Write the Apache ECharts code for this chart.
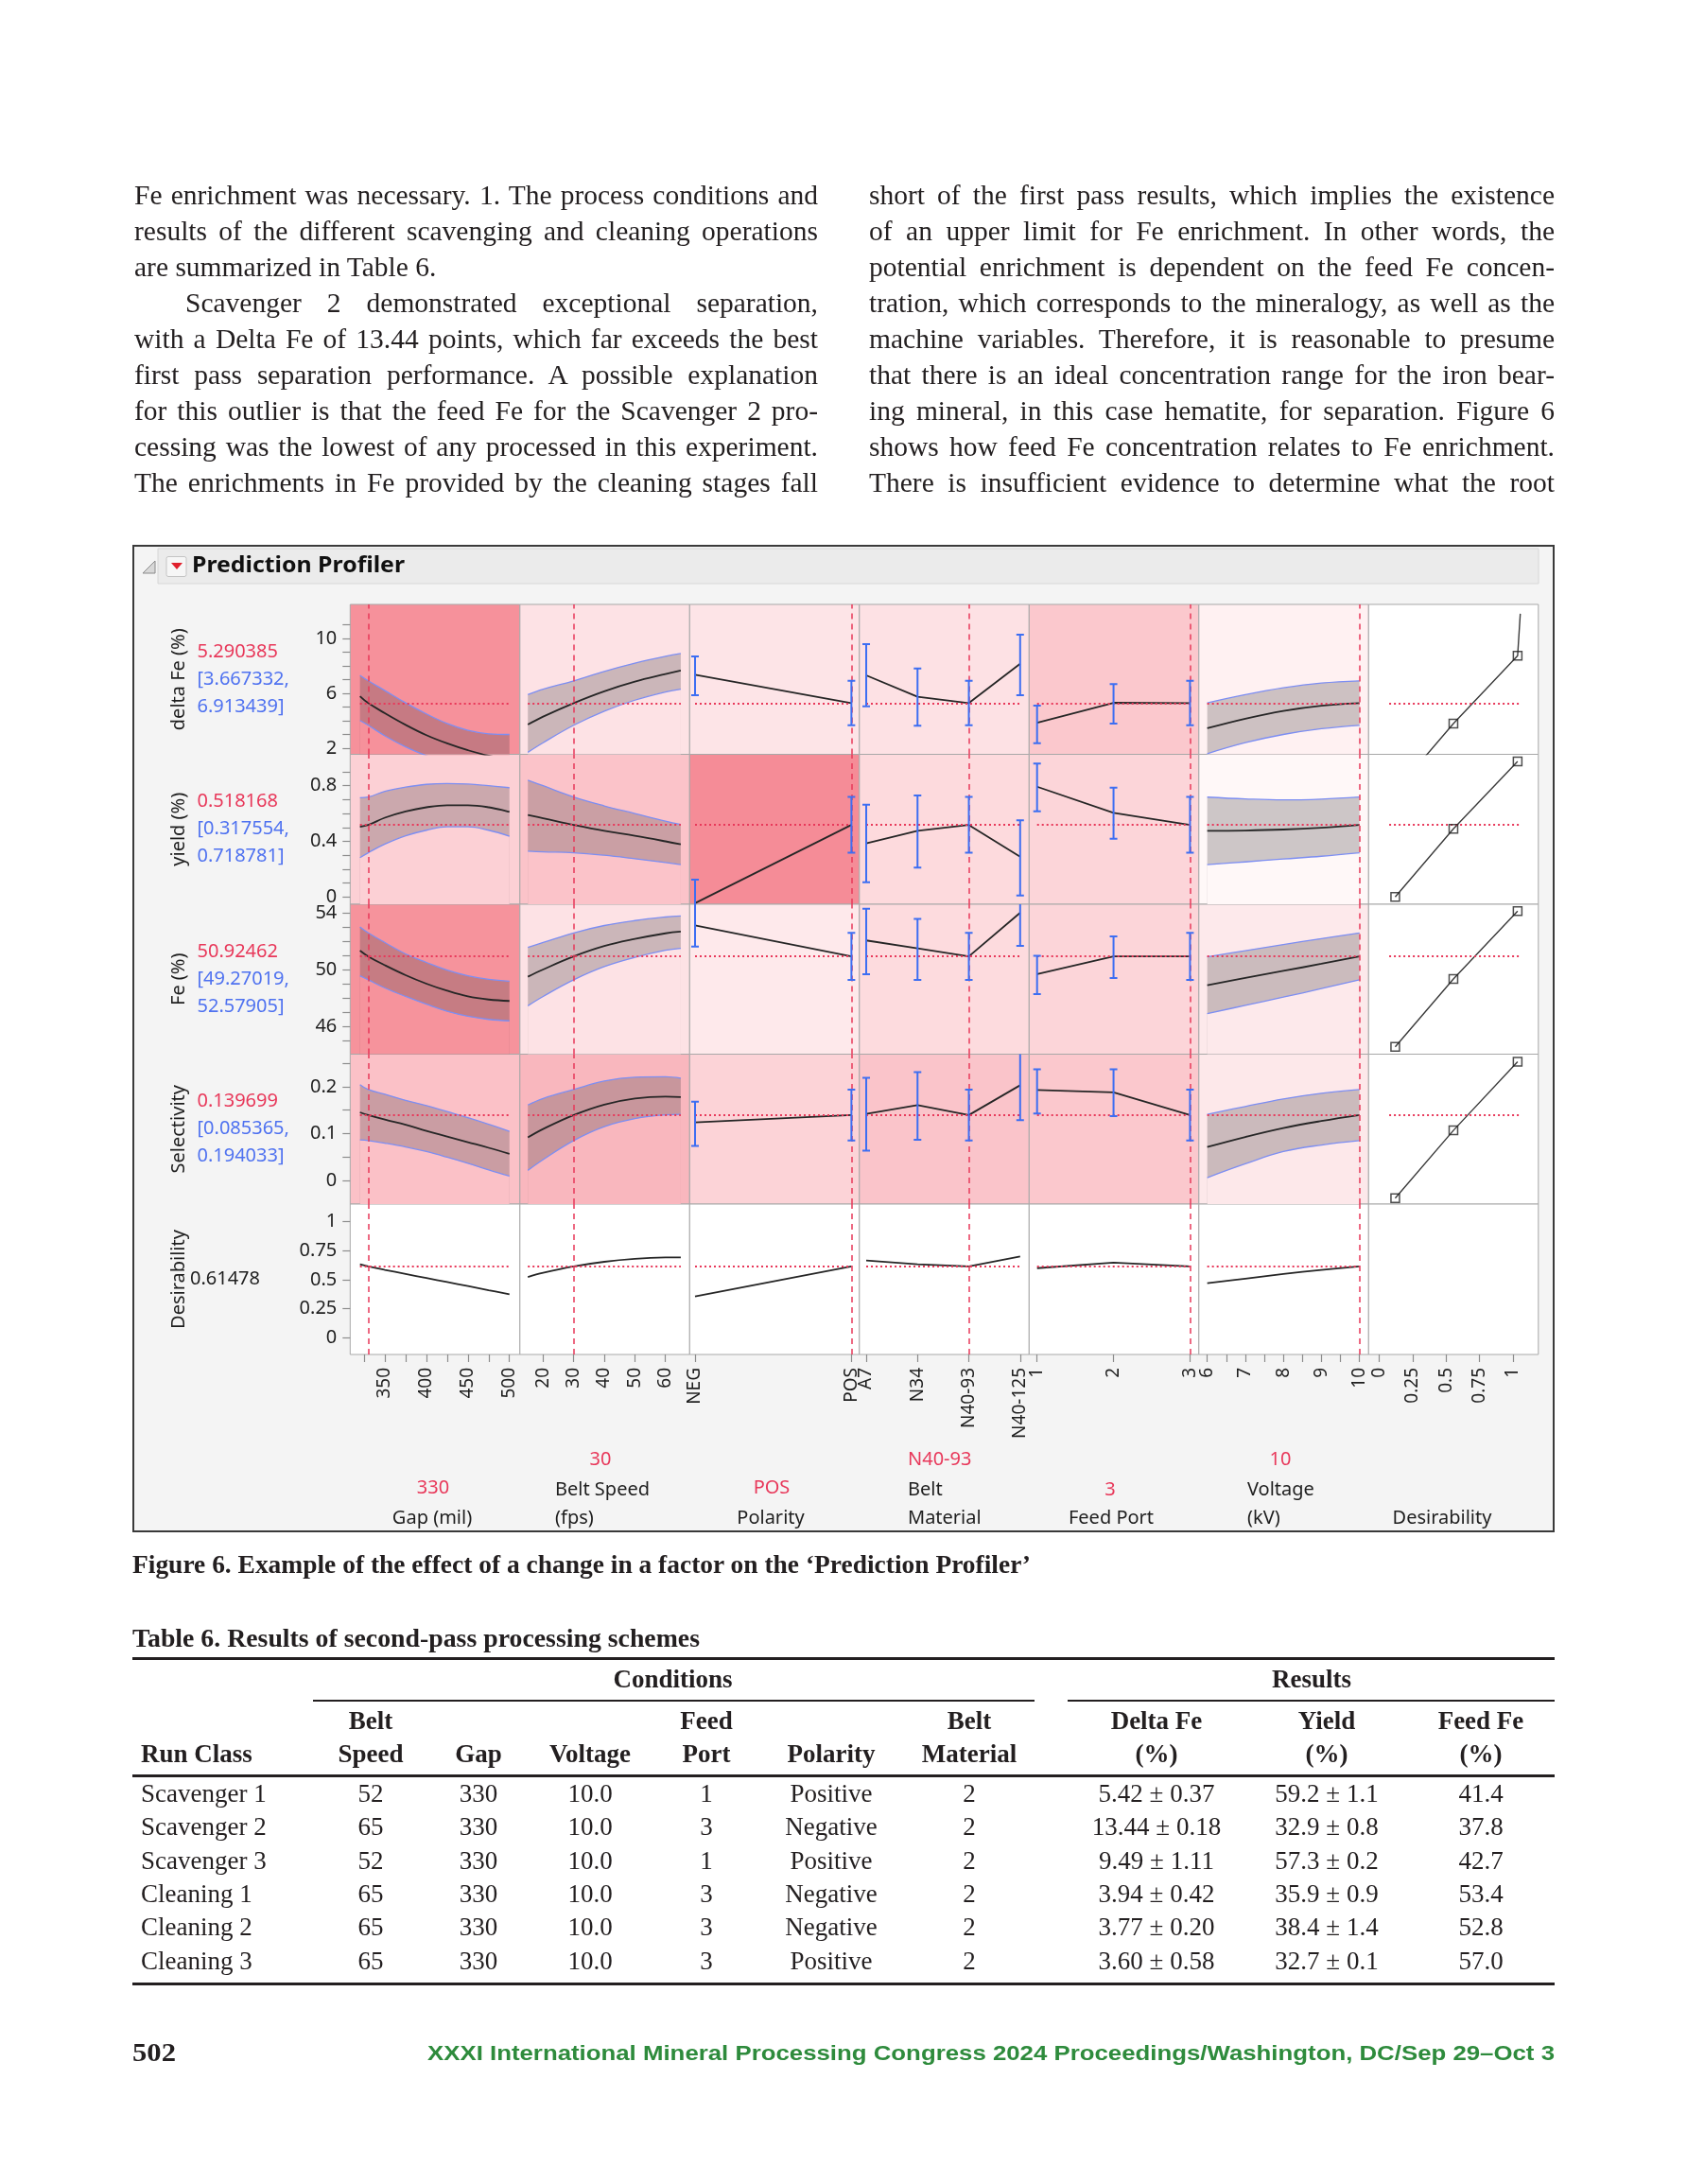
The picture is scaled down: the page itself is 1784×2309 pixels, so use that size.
<!DOCTYPE html>
<html>
<head>
<meta charset="utf-8">
<title>Prediction Profiler</title>
<script src="https://cdn.jsdelivr.net/npm/echarts@6.0.0/dist/echarts.min.js"></script>
<style>
  html, body { margin:0; padding:0; background:#ffffff; }
  #page { position:relative; width:1784px; height:2309px; overflow:hidden; background:#fff; }
  #fig { position:absolute; left:140px; top:576px; width:1504px; height:1044px; box-sizing:border-box; border:2.5px solid #3a3a3a; background:#f4f4f4; }
  #chart { position:absolute; left:0; top:0; width:1784px; height:2309px; }
  .t { position:absolute; white-space:nowrap; font-family:'Liberation Serif','Times New Roman',serif; color:#231f20; line-height:38px; height:38px; }
  .rule { position:absolute; background:#231f20; }
</style>
</head>
<body>
<div id="page">
  <div id="fig"></div>
  <div id="chart"></div>
</div>
<script>
// ---------------- text content ----------------
const col1Lines = [
  'Fe enrichment was necessary. 1. The process conditions and',
  'results of the different scavenging and cleaning operations',
  'are summarized in Table 6.',
  'Scavenger 2 demonstrated exceptional separation,',
  'with a Delta Fe of 13.44 points, which far exceeds the best',
  'first pass separation performance. A possible explanation',
  'for this outlier is that the feed Fe for the Scavenger 2 pro-',
  'cessing was the lowest of any processed in this experiment.',
  'The enrichments in Fe provided by the cleaning stages fall'
];
const col2Lines = [
  'short of the first pass results, which implies the existence',
  'of an upper limit for Fe enrichment. In other words, the',
  'potential enrichment is dependent on the feed Fe concen-',
  'tration, which corresponds to the mineralogy, as well as the',
  'machine variables. Therefore, it is reasonable to presume',
  'that there is an ideal concentration range for the iron bear-',
  'ing mineral, in this case hematite, for separation. Figure 6',
  'shows how feed Fe concentration relates to Fe enrichment.',
  'There is insufficient evidence to determine what the root'
];
const figureCaption = 'Figure 6. Example of the effect of a change in a factor on the \u2018Prediction Profiler\u2019';
const tableTitle = 'Table 6. Results of second-pass processing schemes';
const footerPage = '502';
const footerText = 'XXXI International Mineral Processing Congress 2024 Proceedings/Washington, DC/Sep 29\u2013Oct 3';

// ---------------- table data ----------------
const tableHeader1 = ['', 'Belt', '', '', 'Feed', '', 'Belt', 'Delta Fe', 'Yield', 'Feed Fe'];
const tableHeader2 = ['Run Class', 'Speed', 'Gap', 'Voltage', 'Port', 'Polarity', 'Material', '(%)', '(%)', '(%)'];
const runClasses = ['Scavenger 1', 'Scavenger 2', 'Scavenger 3', 'Cleaning 1', 'Cleaning 2', 'Cleaning 3'];
const beltSpeeds = ['52', '65', '52', '65', '65', '65'];
const gaps = ['330', '330', '330', '330', '330', '330'];
const voltages = ['10.0', '10.0', '10.0', '10.0', '10.0', '10.0'];
const feedPorts = ['1', '3', '1', '3', '3', '3'];
const polarities = ['Positive', 'Negative', 'Positive', 'Negative', 'Negative', 'Positive'];
const beltMaterials = ['2', '2', '2', '2', '2', '2'];
const deltaFeResults = ['5.42 \u00b1 0.37', '13.44 \u00b1 0.18', '9.49 \u00b1 1.11', '3.94 \u00b1 0.42', '3.77 \u00b1 0.20', '3.60 \u00b1 0.58'];
const yieldResults = ['59.2 \u00b1 1.1', '32.9 \u00b1 0.8', '57.3 \u00b1 0.2', '35.9 \u00b1 0.9', '38.4 \u00b1 1.4', '32.7 \u00b1 0.1'];
const feedFeResults = ['41.4', '37.8', '42.7', '53.4', '52.8', '57.0'];

// ---------------- profiler data ----------------
const responseNames = ['delta Fe (%)', 'yield (%)', 'Fe (%)', 'Selectivity', 'Desirability'];
const predictedValues = ['5.290385', '0.518168', '50.92462', '0.139699', '0.61478'];
const ciLowText = ['[3.667332,', '[0.317554,', '[49.27019,', '[0.085365,'];
const ciHighText = ['6.913439]', '0.718781]', '52.57905]', '0.194033]'];
const currentResponse = [5.290385, 0.518168, 50.92462, 0.139699, 0.61478];
const factorValueText = ['330', '30', 'POS', 'N40-93', '3', '10', ''];
const currentFactor = [330, 30, 1, 2, 3, 10, null];
const factorSpan = [[320, 500], [15, 65], [0, 1], [0, 3], [1, 3], [6, 10], [0.075, 1.05]];

const gapTicks = [350, 400, 450, 500];
const gapMinorTicks = [325, 375, 425, 475];
const speedTicks = [20, 30, 40, 50, 60];
const polarityLevels = ['NEG', 'POS'];
const materialLevels = ['A7', 'N34', 'N40-93', 'N40-125'];
const feedPortLevels = [1, 2, 3];
const voltageTicks = [6, 7, 8, 9, 10];
const voltageMinorTicks = [6.5, 7.5, 8.5, 9.5];
const desirTicks = [0, 0.25, 0.5, 0.75, 1];
const deltaFeTicks = [2, 6, 10];
const deltaFeMinor = [3, 4, 5, 7, 8, 9, 11];
const yieldTicks = [0, 0.4, 0.8];
const yieldMinor = [0.1, 0.2, 0.3, 0.5, 0.6, 0.7, 0.9];
const feTicks = [46, 50, 54];
const feMinor = [45, 47, 48, 49, 51, 52, 53];
const selTicks = [0, 0.1, 0.2];
const selMinor = [0.05, 0.15, 0.25];

// Gap (mil)
const gapLevels = [320, 330, 350, 375, 400, 425, 450, 475, 500];
const gapDeltaFe = [5.79, 5.29, 4.55, 3.7, 2.95, 2.35, 1.85, 1.45, 1.2];
const gapDeltaFeLow = [4.02, 3.67, 2.9, 2.1, 1.45, 0.9, 0.45, 0.1, -0.1];
const gapDeltaFeHigh = [7.31, 6.91, 6.2, 5.3, 4.5, 3.8, 3.3, 3.05, 3.0];
const gapYield = [0.505, 0.518, 0.57, 0.615, 0.645, 0.66, 0.66, 0.645, 0.612];
const gapYieldLow = [0.283, 0.318, 0.38, 0.44, 0.48, 0.505, 0.505, 0.48, 0.437];
const gapYieldHigh = [0.714, 0.719, 0.76, 0.79, 0.81, 0.816, 0.812, 0.8, 0.786];
const gapFe = [51.33, 50.92, 50.3, 49.6, 49.0, 48.5, 48.1, 47.88, 47.78];
const gapFeLow = [49.56, 49.27, 48.7, 48.1, 47.55, 47.05, 46.7, 46.48, 46.38];
const gapFeHigh = [53.0, 52.58, 51.9, 51.1, 50.5, 49.95, 49.55, 49.3, 49.18];
const gapSel = [0.1455, 0.1397, 0.13, 0.119, 0.106, 0.094, 0.082, 0.07, 0.057];
const gapSelLow = [0.087, 0.0854, 0.08, 0.072, 0.062, 0.05, 0.037, 0.023, 0.01];
const gapSelHigh = [0.2045, 0.194, 0.184, 0.171, 0.16, 0.147, 0.134, 0.12, 0.105];
const gapDesir = [0.633, 0.615, 0.585, 0.55, 0.515, 0.48, 0.445, 0.41, 0.375];

// Belt Speed (fps)
const speedLevels = [15, 20, 30, 40, 50, 60, 65];
const speedDeltaFe = [3.72, 4.3, 5.29, 6.15, 6.85, 7.4, 7.66];
const speedDeltaFeLow = [1.7, 2.4, 3.67, 4.7, 5.5, 6.1, 6.3];
const speedDeltaFeHigh = [5.9, 6.3, 6.91, 7.6, 8.2, 8.7, 8.9];
const speedYield = [0.589, 0.566, 0.518, 0.475, 0.44, 0.4, 0.378];
const speedYieldLow = [0.33, 0.325, 0.318, 0.3, 0.275, 0.248, 0.233];
const speedYieldHigh = [0.84, 0.8, 0.719, 0.655, 0.6, 0.545, 0.521];
const speedFe = [49.49, 50.0, 50.92, 51.65, 52.15, 52.55, 52.67];
const speedFeLow = [47.44, 48.1, 49.27, 50.2, 50.85, 51.35, 51.49];
const speedFeHigh = [51.56, 51.9, 52.58, 53.1, 53.45, 53.7, 53.78];
const speedSel = [0.092, 0.11, 0.1397, 0.162, 0.175, 0.179, 0.178];
const speedSelLow = [0.022, 0.045, 0.0854, 0.115, 0.132, 0.14, 0.141];
const speedSelHigh = [0.161, 0.175, 0.194, 0.212, 0.22, 0.221, 0.218];
const speedDesir = [0.524, 0.56, 0.615, 0.655, 0.68, 0.692, 0.693];

// Polarity (NEG, POS)
const polarityX = [0, 1];
const polDeltaFe = [7.36, 5.29];
const polDeltaFeLow = [5.86, 3.67];
const polDeltaFeHigh = [8.69, 6.91];
const polYield = [-0.045, 0.518];
const polYieldLow = [-0.2, 0.318];
const polYieldHigh = [0.125, 0.719];
const polFe = [53.11, 50.92];
const polFeLow = [51.62, 49.27];
const polFeHigh = [54.7, 52.58];
const polSel = [0.124, 0.1397];
const polSelLow = [0.074, 0.0854];
const polSelHigh = [0.168, 0.194];
const polDesir = [0.356, 0.615];

// Belt Material (A7, N34, N40-93, N40-125)
const materialX = [0, 1, 2, 3];
const matDeltaFe = [7.31, 5.75, 5.29, 8.16];
const matDeltaFeLow = [5.06, 3.63, 3.67, 5.86];
const matDeltaFeHigh = [9.59, 7.81, 6.91, 10.28];
const matYield = [0.385, 0.476, 0.518, 0.29];
const matYieldLow = [0.106, 0.211, 0.318, 0.011];
const matYieldHigh = [0.664, 0.73, 0.719, 0.551];
const matFe = [52.05, 51.49, 50.92, 54.0];
const matFeLow = [49.67, 49.27, 49.27, 51.67];
const matFeHigh = [54.29, 53.56, 52.58, 54.8];
const matSel = [0.142, 0.161, 0.1397, 0.203];
const matSelLow = [0.064, 0.087, 0.0854, 0.129];
const matSelHigh = [0.219, 0.231, 0.194, 0.28];
const matDesir = [0.666, 0.633, 0.615, 0.701];

// Feed Port (1, 2, 3)
const portDeltaFe = [3.86, 5.31, 5.29];
const portDeltaFeLow = [2.37, 3.79, 3.67];
const portDeltaFeHigh = [5.1, 6.67, 6.91];
const portYield = [0.793, 0.605, 0.518];
const portYieldLow = [0.616, 0.419, 0.318];
const portYieldHigh = [0.959, 0.786, 0.719];
const portFe = [49.67, 50.93, 50.92];
const portFeLow = [48.27, 49.4, 49.27];
const portFeHigh = [50.96, 52.33, 52.58];
const portSel = [0.193, 0.188, 0.1397];
const portSelLow = [0.143, 0.1375, 0.0854];
const portSelHigh = [0.237, 0.237, 0.194];
const portDesir = [0.60, 0.647, 0.615];

// Voltage (kV)
const voltLevels = [6, 7, 8, 9, 10];
const voltDeltaFe = [3.45, 4.15, 4.72, 5.1, 5.29];
const voltDeltaFeLow = [1.6, 2.4, 3.0, 3.42, 3.67];
const voltDeltaFeHigh = [5.3, 5.9, 6.4, 6.75, 6.91];
const voltYield = [0.476, 0.478, 0.485, 0.498, 0.518];
const voltYieldLow = [0.233, 0.252, 0.273, 0.293, 0.318];
const voltYieldHigh = [0.718, 0.705, 0.698, 0.704, 0.719];
const voltFe = [48.89, 49.4, 49.9, 50.4, 50.92];
const voltFeLow = [46.89, 47.47, 48.05, 48.65, 49.27];
const voltFeHigh = [50.89, 51.33, 51.76, 52.18, 52.58];
const voltSel = [0.0716, 0.093, 0.112, 0.127, 0.1397];
const voltSelLow = [0.0066, 0.036, 0.062, 0.076, 0.0854];
const voltSelHigh = [0.141, 0.158, 0.174, 0.186, 0.194];
const voltDesir = [0.47, 0.51, 0.55, 0.585, 0.615];

// Desirability functions (desirability, response)
const desirLevels = [0.12, 0.555, 1.035];
const desirDeltaFe = [-1.16, 3.79, 8.74];
const desirDeltaFeCapD = 1.055;
const desirDeltaFeCapY = 11.8;
const desirYield = [0.0, 0.49, 0.975];
const desirFe = [44.55, 49.33, 54.11];
const desirSel = [-0.037, 0.107, 0.253];

// ---------------- layout / style ----------------
const colEdges = [370.3, 549.8, 729.3, 908.8, 1088.3, 1267.8, 1447.3, 1626.8];
const rowEdges = [639, 797.5, 956, 1114.5, 1273, 1432];
const xRanges = [[308.2, 512.6], [12.4, 67.9], [-0.0345, 1.051], [-0.133, 3.175], [0.896, 3.116], [5.78, 10.24], [-0.079, 1.19]];
const yRanges = [[1.552, 12.483], [-0.0524, 1.0259], [44.03, 54.6], [-0.0497, 0.2692], [-0.1444, 1.1525]];
const cellColors = [
  ['#f6919b', '#fde2e5', '#fde4e7', '#fde1e4', '#fbc8cd', '#fff1f2', '#ffffff'],
  ['#fcd0d5', '#fbc3c9', '#f58c97', '#fddadd', '#fcd5d9', '#fff8f8', '#ffffff'],
  ['#f6939c', '#fde2e5', '#fee9eb', '#fddbde', '#fcd5d9', '#fde9eb', '#ffffff'],
  ['#fbc1c7', '#f9b7be', '#fcd3d7', '#fac4ca', '#fbc8cd', '#fde8ea', '#ffffff'],
  ['#ffffff', '#ffffff', '#ffffff', '#ffffff', '#ffffff', '#ffffff', '#ffffff']
];
const RED = '#e8385a';
const BLUE_TXT = '#4f72f0';
const BAND_LINE = '#7d8ef2';
const ERR_BLUE = '#3d6ef2';
const MEAN = '#262626';
const BAND_FILL = 'rgba(72,62,66,0.27)';
const SANS = '"Noto Sans", "Open Sans", sans-serif';

// ---------------- HTML text ----------------
const page = document.getElementById('page');
function put(text, left, centerY, opts) {
  opts = opts || {};
  const size = opts.size || 29.5;
  const d = document.createElement('div');
  d.className = 't';
  d.textContent = text;
  d.style.left = left + 'px';
  d.style.top = (centerY - 19 - 0.1075 * size) + 'px';
  d.style.fontSize = size + 'px';
  if (opts.bold) d.style.fontWeight = 'bold';
  if (opts.family) d.style.fontFamily = opts.family;
  if (opts.color) d.style.color = opts.color;
  page.appendChild(d);
  const w = d.getBoundingClientRect().width;
  if (opts.center) d.style.left = (left - w / 2) + 'px';
  if (opts.justify) {
    const n = (text.match(/ /g) || []).length;
    const ws = n ? (opts.justify - w) / n : 0;
    if (ws > -2.5) d.style.wordSpacing = ws + 'px';
    else { d.style.transformOrigin = '0 50%'; d.style.transform = 'scaleX(' + (opts.justify / w) + ')'; }
  }
  if (opts.fit) { d.style.transformOrigin = '0 50%'; d.style.transform = 'scaleX(' + (opts.fit / w) + ')'; }
  return d;
}
function rule(x1, x2, y, h) {
  const d = document.createElement('div');
  d.className = 'rule';
  d.style.left = x1 + 'px'; d.style.width = (x2 - x1) + 'px';
  d.style.top = (y - h / 2) + 'px'; d.style.height = h + 'px';
  page.appendChild(d);
}

const lineY0 = 209, lineStep = 38.0;
col1Lines.forEach((s, i) => {
  const y = lineY0 + i * lineStep;
  if (i === 2) put(s, 142, y);
  else if (i === 3) put(s, 196, y, { justify: 865 - 196 });
  else put(s, 142, y, { justify: 865 - 142 });
});
col2Lines.forEach((s, i) => {
  put(s, 919, lineY0 + i * lineStep, { justify: 1644 - 919 });
});

put(figureCaption, 140, 1657, { bold: true, size: 27, fit: 950 });
put(tableTitle, 140, 1735, { bold: true, size: 27, fit: 600 });

rule(140, 1644, 1753, 3);
put('Conditions', 711.6, 1778, { bold: true, size: 27, center: true });
put('Results', 1387, 1778, { bold: true, size: 27, center: true });
rule(330.7, 1094.5, 1798, 2);
rule(1128.5, 1644, 1798, 2);
const colCenters = [149, 392, 506, 624, 747, 879, 1025, 1223, 1403, 1566];
tableHeader1.forEach((s, i) => { if (s) put(s, colCenters[i], 1822, { bold: true, size: 27, center: true }); });
tableHeader2.forEach((s, i) => {
  if (i === 0) put(s, colCenters[0], 1857, { bold: true, size: 27 });
  else put(s, colCenters[i], 1857, { bold: true, size: 27, center: true });
});
rule(140, 1644, 1877, 3);
const tableCols = [beltSpeeds, gaps, voltages, feedPorts, polarities, beltMaterials, deltaFeResults, yieldResults, feedFeResults];
runClasses.forEach((rc, r) => {
  const y = 1899 + r * 35.3;
  put(rc, colCenters[0], y, { size: 27 });
  tableCols.forEach((col, k) => put(col[r], colCenters[k + 1], y, { size: 27, center: true }));
});
rule(140, 1644, 2097, 3);

put(footerPage, 140, 2173, { bold: true, size: 27, fit: 46 });
put(footerText, 452, 2173, { bold: true, size: 22, family: '"Liberation Sans", Arial, sans-serif', color: '#2e8b3c', fit: 1192 });

// ---------------- profiler chart ----------------
const xMajor = [gapTicks, speedTicks, polarityX, materialX, feedPortLevels, voltageTicks, desirTicks];
const xMinor = [gapMinorTicks, [], [], [], [], voltageMinorTicks, []];
const xLabelText = [null, null, polarityLevels, materialLevels, null, null, null];
const yMajor = [deltaFeTicks, yieldTicks, feTicks, selTicks, desirTicks];
const yMinor = [deltaFeMinor, yieldMinor, feMinor, selMinor, []];

const cont = [
  [
    { x: gapLevels, m: gapDeltaFe, lo: gapDeltaFeLow, hi: gapDeltaFeHigh },
    { x: gapLevels, m: gapYield, lo: gapYieldLow, hi: gapYieldHigh },
    { x: gapLevels, m: gapFe, lo: gapFeLow, hi: gapFeHigh },
    { x: gapLevels, m: gapSel, lo: gapSelLow, hi: gapSelHigh },
    { x: gapLevels, m: gapDesir }
  ],
  [
    { x: speedLevels, m: speedDeltaFe, lo: speedDeltaFeLow, hi: speedDeltaFeHigh },
    { x: speedLevels, m: speedYield, lo: speedYieldLow, hi: speedYieldHigh },
    { x: speedLevels, m: speedFe, lo: speedFeLow, hi: speedFeHigh },
    { x: speedLevels, m: speedSel, lo: speedSelLow, hi: speedSelHigh },
    { x: speedLevels, m: speedDesir }
  ],
  [
    { x: polarityX, m: polDeltaFe, lo: polDeltaFeLow, hi: polDeltaFeHigh, cat: true },
    { x: polarityX, m: polYield, lo: polYieldLow, hi: polYieldHigh, cat: true },
    { x: polarityX, m: polFe, lo: polFeLow, hi: polFeHigh, cat: true },
    { x: polarityX, m: polSel, lo: polSelLow, hi: polSelHigh, cat: true },
    { x: polarityX, m: polDesir, cat: true }
  ],
  [
    { x: materialX, m: matDeltaFe, lo: matDeltaFeLow, hi: matDeltaFeHigh, cat: true },
    { x: materialX, m: matYield, lo: matYieldLow, hi: matYieldHigh, cat: true },
    { x: materialX, m: matFe, lo: matFeLow, hi: matFeHigh, cat: true },
    { x: materialX, m: matSel, lo: matSelLow, hi: matSelHigh, cat: true },
    { x: materialX, m: matDesir, cat: true }
  ],
  [
    { x: feedPortLevels, m: portDeltaFe, lo: portDeltaFeLow, hi: portDeltaFeHigh, cat: true },
    { x: feedPortLevels, m: portYield, lo: portYieldLow, hi: portYieldHigh, cat: true },
    { x: feedPortLevels, m: portFe, lo: portFeLow, hi: portFeHigh, cat: true },
    { x: feedPortLevels, m: portSel, lo: portSelLow, hi: portSelHigh, cat: true },
    { x: feedPortLevels, m: portDesir, cat: true }
  ],
  [
    { x: voltLevels, m: voltDeltaFe, lo: voltDeltaFeLow, hi: voltDeltaFeHigh },
    { x: voltLevels, m: voltYield, lo: voltYieldLow, hi: voltYieldHigh },
    { x: voltLevels, m: voltFe, lo: voltFeLow, hi: voltFeHigh },
    { x: voltLevels, m: voltSel, lo: voltSelLow, hi: voltSelHigh },
    { x: voltLevels, m: voltDesir }
  ]
];
const desirResp = [desirDeltaFe, desirYield, desirFe, desirSel];

const NC = 7;
const grid = [], xAxis = [], yAxis = [], series = [];
const idx = (r, c) => r * NC + c;

for (let r = 0; r < 5; r++) {
  for (let c = 0; c < NC; c++) {
    grid.push({
      left: colEdges[c], top: rowEdges[r],
      width: colEdges[c + 1] - colEdges[c], height: rowEdges[r + 1] - rowEdges[r],
      show: true, backgroundColor: cellColors[r][c], borderColor: '#a8a8a8', borderWidth: 1
    });
    const labels = xLabelText[c];
    const majors = xMajor[c];
    xAxis.push({
      type: 'value', gridIndex: idx(r, c), min: xRanges[c][0], max: xRanges[c][1],
      show: r === 4, position: 'bottom',
      axisLine: { show: false, onZero: false }, splitLine: { show: false },
      axisTick: { show: true, length: 8, customValues: majors.concat(xMinor[c]), lineStyle: { color: '#8c8c8c', width: 1.2 } },
      axisLabel: {
        show: true, customValues: majors, rotate: 90, margin: 14, fontSize: 19, fontFamily: SANS, color: '#1e1e1e',
        formatter: (v) => labels ? labels[majors.indexOf(v)] : String(v)
      }
    });
    yAxis.push({
      type: 'value', gridIndex: idx(r, c), min: yRanges[r][0], max: yRanges[r][1],
      show: c === 0, position: 'left',
      axisLine: { show: false, onZero: false }, splitLine: { show: false },
      axisTick: { show: true, length: 8, customValues: yMajor[r].concat(yMinor[r]), lineStyle: { color: '#8c8c8c', width: 1.2 } },
      axisLabel: { show: true, customValues: yMajor[r], margin: 14, fontSize: 20, fontFamily: SANS, color: '#1e1e1e', formatter: (v) => String(v) }
    });
  }
}

function redLines(r, c) {
  const data = [];
  if (currentFactor[c] !== null) {
    data.push({ xAxis: currentFactor[c], lineStyle: { color: RED, type: [6, 5], width: 1.5 } });
  }
  const s = factorSpan[c];
  const ls = { color: RED, type: [2, 3], width: 2 };
  data.push([{ coord: [s[0], currentResponse[r]], lineStyle: ls }, { coord: [s[1], currentResponse[r]], lineStyle: ls }]);
  return { silent: true, symbol: ['none', 'none'], label: { show: false }, animation: false, precision: 6, data: data };
}

for (let c = 0; c < 6; c++) {
  for (let r = 0; r < 5; r++) {
    const cell = cont[c][r];
    const k = idx(r, c);
    const pts = (arr) => cell.x.map((v, i) => [v, arr[i]]);
    if (cell.lo && !cell.cat) {
      // upper bound: grey fill down to axis start
      series.push({
        type: 'line', xAxisIndex: k, yAxisIndex: k, data: pts(cell.hi),
        smooth: 0.4, symbol: 'none', silent: true, z: 2, lineStyle: { color: BAND_LINE, width: 1.3 },
        areaStyle: { color: BAND_FILL, opacity: 1, origin: 'start' }
      });
      // lower bound: cell colour fill down to axis start (clears the band below)
      series.push({
        type: 'line', xAxisIndex: k, yAxisIndex: k, data: pts(cell.lo),
        smooth: 0.4, symbol: 'none', silent: true, z: 3, lineStyle: { color: BAND_LINE, width: 1.3 },
        areaStyle: { color: cellColors[r][c], opacity: 1, origin: 'start' }
      });
    }
    if (cell.lo && cell.cat) {
      series.push({
        type: 'custom', xAxisIndex: k, yAxisIndex: k, clip: true, silent: true, z: 5,
        data: cell.x.map((v, i) => [v, cell.lo[i], cell.hi[i]]),
        encode: { x: 0, y: [1, 2] },
        renderItem: (params, api) => {
          const xv = api.value(0);
          const p1 = api.coord([xv, api.value(1)]);
          const p2 = api.coord([xv, api.value(2)]);
          const w = 4;
          const st = { stroke: ERR_BLUE, lineWidth: 2 };
          return {
            type: 'group', children: [
              { type: 'line', shape: { x1: p1[0], y1: p1[1], x2: p2[0], y2: p2[1] }, style: st },
              { type: 'line', shape: { x1: p1[0] - w, y1: p1[1], x2: p1[0] + w, y2: p1[1] }, style: st },
              { type: 'line', shape: { x1: p2[0] - w, y1: p2[1], x2: p2[0] + w, y2: p2[1] }, style: st }
            ]
          };
        }
      });
    }
    series.push({
      type: 'line', xAxisIndex: k, yAxisIndex: k, data: pts(cell.m), smooth: cell.cat ? false : 0.4,
      symbol: 'none', silent: true, z: 4, lineStyle: { color: MEAN, width: 1.8 },
      markLine: redLines(r, c)
    });
  }
}

// desirability column
for (let r = 0; r < 4; r++) {
  const k = idx(r, 6);
  const line = desirLevels.map((d, i) => [d, desirResp[r][i]]);
  if (r === 0) line.push([desirDeltaFeCapD, desirDeltaFeCapY]);
  series.push({
    type: 'line', xAxisIndex: k, yAxisIndex: k, data: line, symbol: 'none', silent: true, z: 4,
    lineStyle: { color: '#3a3a3a', width: 1.4 }, markLine: redLines(r, 6)
  });
  series.push({
    type: 'scatter', xAxisIndex: k, yAxisIndex: k, data: desirLevels.map((d, i) => [d, desirResp[r][i]]),
    symbol: 'rect', symbolSize: 9, silent: true, z: 5, clip: true,
    itemStyle: { color: 'rgba(255,255,255,0.01)', borderColor: '#222', borderWidth: 1.5 }
  });
}

// ---------------- graphic texts ----------------
const graphic = [];
function gtext(text, x, y, o) {
  o = o || {};
  graphic.push({
    type: 'text', x: x, y: y, rotation: o.rot || 0, silent: true, z: 50,
    style: {
      text: text, fill: o.color || '#1e1e1e', fontSize: o.size || 20, fontFamily: SANS,
      fontWeight: o.bold ? 'bold' : 'normal',
      textAlign: o.align || 'left', textVerticalAlign: 'middle'
    }
  });
}
// title bar
graphic.push({ type: 'rect', shape: { x: 167, y: 580, width: 1460, height: 37 }, style: { fill: '#ebebeb', stroke: '#d6d6d6', lineWidth: 1 }, silent: true, z: 1 });
graphic.push({ type: 'polygon', shape: { points: [[151, 606], [164, 593], [164, 606]] }, style: { fill: '#d8d8d8', stroke: '#8a8a8a', lineWidth: 1 }, silent: true, z: 2 });
graphic.push({ type: 'rect', shape: { x: 176, y: 588.5, width: 21, height: 21, r: 2 }, style: { fill: '#f6f6f6', stroke: '#c4c4c4', lineWidth: 1 }, silent: true, z: 2 });
graphic.push({ type: 'polygon', shape: { points: [[181, 595], [193, 595], [187, 602]] }, style: { fill: '#e0202c' }, silent: true, z: 3 });
(function () {
  const ctx = document.createElement('canvas').getContext('2d');
  ctx.font = 'bold 23px ' + SANS;
  const w = ctx.measureText('Prediction Profiler').width;
  graphic.push({
    type: 'text', x: 203, y: 598.5, scaleX: 225 / w, silent: true, z: 50,
    style: { text: 'Prediction Profiler', fill: '#111', fontSize: 23, fontWeight: 'bold', fontFamily: SANS, textAlign: 'left', textVerticalAlign: 'middle' }
  });
})();

const rowCenters = rowEdges.slice(0, 5).map((t, i) => (t + rowEdges[i + 1]) / 2);
responseNames.forEach((name, r) => {
  gtext(name, 189, rowCenters[r], { rot: Math.PI / 2, align: 'center', size: 20 });
});
for (let r = 0; r < 4; r++) {
  const cy = rowCenters[r];
  gtext(predictedValues[r], 208.5, cy - 29, { color: RED });
  gtext(ciLowText[r], 208.5, cy, { color: BLUE_TXT });
  gtext(ciHighText[r], 208.5, cy + 29, { color: BLUE_TXT });
}
gtext(predictedValues[4], 201, rowCenters[4], {});

// factor labels under the axes
gtext(factorValueText[0], 458, 1573, { color: RED, align: 'center' });
gtext('Gap (mil)', 457, 1605, { align: 'center' });
gtext(factorValueText[1], 635, 1543, { color: RED, align: 'center' });
gtext('Belt Speed', 587, 1575, {});
gtext('(fps)', 587, 1605, {});
gtext(factorValueText[2], 816, 1573, { color: RED, align: 'center' });
gtext('Polarity', 815, 1605, { align: 'center' });
gtext(factorValueText[3], 960, 1543, { color: RED });
gtext('Belt', 960, 1575, {});
gtext('Material', 960, 1605, {});
gtext(factorValueText[4], 1174, 1575, { color: RED, align: 'center' });
gtext('Feed Port', 1175, 1605, { align: 'center' });
gtext(factorValueText[5], 1354, 1543, { color: RED, align: 'center' });
gtext('Voltage', 1319, 1575, {});
gtext('(kV)', 1319, 1605, {});
gtext('Desirability', 1525, 1605, { align: 'center' });

const chart = echarts.init(document.getElementById('chart'), null, { renderer: 'canvas' });
chart.setOption({
  animation: false,
  backgroundColor: 'transparent',
  grid: grid, xAxis: xAxis, yAxis: yAxis, series: series, graphic: graphic
});
</script>
</body>
</html>
